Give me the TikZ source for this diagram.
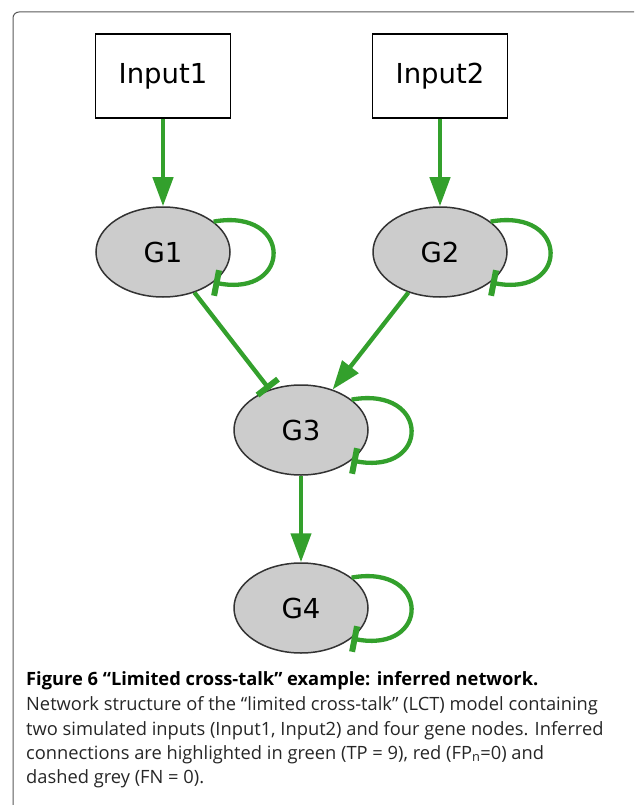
\documentclass[tikz,border=0pt]{standalone}
\usepackage{fontspec}
\usepackage{tikz}
\usetikzlibrary{shapes.geometric,arrows.meta}
\newfontfamily\graphfont{DejaVu Sans}
\newfontfamily\capfont{Open Sans}
\definecolor{edgegreen}{RGB}{51,160,44}
\definecolor{genegray}{RGB}{204,204,204}
\tikzset{
  font={\graphfont\fontsize{27.5pt}{32pt}\selectfont}}

\begin{document}
\begin{tikzpicture}[x=1pt,y=1pt]
\tikzstyle{every node}+=[inner sep=0pt]
\tikzstyle{inputbox}=[draw=black,line width=1.5pt,minimum width=135pt,minimum height=84pt]
\tikzstyle{gene}=[ellipse,draw=black!80,fill=genegray,line width=1.5pt,minimum width=134pt,minimum height=90pt]
\tikzstyle{act}=[edgegreen,line width=4.3pt,-{Triangle[length=29pt,width=20pt]}]
\tikzstyle{inh}=[edgegreen,line width=4.3pt,-{Bar[width=26pt,line width=6pt]}]
\tikzstyle{selfloop}=[out=10,in=-11,looseness=3.4]
\tikzstyle{capline}=[anchor=base west,font={\capfont\fontsize{18.3pt}{22pt}\selectfont}]
\useasboundingbox (0,0) rectangle (634,-805);
\draw[black!65,line width=1pt,rounded corners=6pt] (634,-12) -- (13,-12) -- (13,-805);
\node[inputbox] (in1) at (163,-76) {Input1};
\node[inputbox] (in2) at (440,-76) {Input2};
\node[gene] (g1) at (163,-252) {G1};
\node[gene] (g2) at (440,-252) {G2};
\node[gene] (g3) at (301,-430) {G3};
\node[gene] (g4) at (301,-608) {G4};
\draw[act] (in1) -- (g1);
\draw[act] (in2) -- (g2);
\draw[inh] (g1) -- (g3);
\draw[act] (g2) -- (g3);
\draw[act] (g3) -- (g4);
\draw[inh] (g1.31) to[selfloop] (g1.-31);
\draw[inh] (g2.31) to[selfloop] (g2.-31);
\draw[inh] (g3.31) to[selfloop] (g3.-31);
\draw[inh] (g4.31) to[selfloop] (g4.-31);
\node[capline] (cap1) at (26,-685) {\bfseries Figure 6 “Limited cross-talk” example: inferred network.};
\node[capline,black!85] (cap2) at (26,-710) {Network structure of the “limited cross-talk” (LCT) model containing};
\node[capline,black!85] (cap3) at (26,-735) {two simulated inputs (Input1, Input2) and four gene nodes. Inferred};
\node[capline,black!85] (cap4) at (26,-759) {connections are highlighted in green (TP = 9), red (FP\textsubscript{n}=0) and};
\node[capline,black!85] (cap5) at (26,-783) {dashed grey (FN = 0).};
\end{tikzpicture}
\end{document}
